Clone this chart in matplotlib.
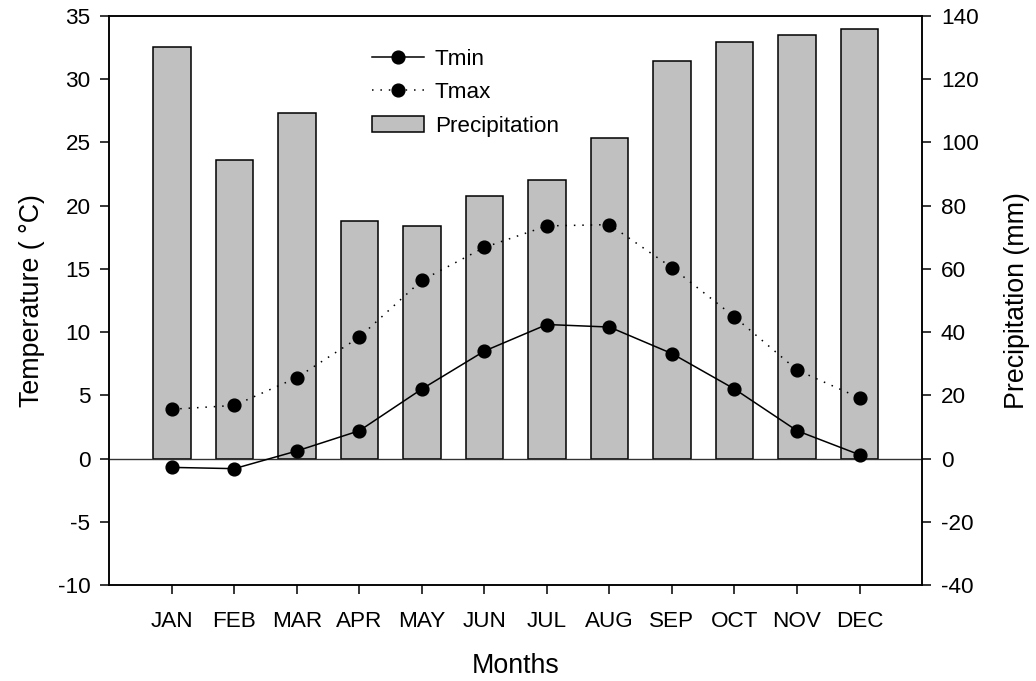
import matplotlib

matplotlib.use("Agg")
import matplotlib.pyplot as plt
import numpy as np

months = ["JAN", "FEB", "MAR", "APR", "MAY", "JUN",
          "JUL", "AUG", "SEP", "OCT", "NOV", "DEC"]
tmin = [-0.7, -0.8, 0.6, 2.2, 5.5, 8.5, 10.6, 10.4, 8.3, 5.5, 2.2, 0.3]
tmax = [3.9, 4.2, 6.4, 9.6, 14.1, 16.7, 18.4, 18.5, 15.1, 11.2, 7.0, 4.8]
precip = [130.3, 94.5, 109.3, 75.1, 73.5, 83.2, 88.1, 101.4, 125.7, 131.7, 134.0, 136.0]

temp_ticks = list(range(-10, 36, 5))
precip_ticks = list(range(-40, 141, 20))

plt.rcParams["font.family"] = ["Liberation Sans", "DejaVu Sans"]
plt.rcParams["axes.unicode_minus"] = False

fig = plt.figure(figsize=(10.36, 6.81), dpi=100)
ax = fig.add_axes([0.1055, 0.141, 0.7845, 0.8355])
ax2 = ax.twinx()

x = np.arange(len(months))

# bars go on the precipitation axis, drawn underneath the temperature lines
bars = ax2.bar(x, precip, width=0.6, color="#c0c0c0", edgecolor="black",
               linewidth=1.1, label="Precipitation")
ax.set_zorder(ax2.get_zorder() + 1)
ax.patch.set_visible(False)

ax.axhline(0, color="#333333", linewidth=1.0, zorder=1)
l1, = ax.plot(x, tmin, "-", color="black", linewidth=1.1, marker="o",
              markersize=9.2, label="Tmin", zorder=3)
l2, = ax.plot(x, tmax, linestyle=(0, (1, 4.5)), color="black", linewidth=1.1,
              marker="o", markersize=9.2, label="Tmax", zorder=3)

ax.set_xlim(-1, 12)
ax.set_ylim(-10, 35)
ax2.set_ylim(-40, 140)
ax.set_yticks(temp_ticks)
ax2.set_yticks(precip_ticks)
ax.set_xticks(x)
ax.set_xticklabels(months)

for a in (ax, ax2):
    for s in a.spines.values():
        s.set_linewidth(1.1)
    a.tick_params(direction="out", length=6.5, width=1.1, labelsize=16.2, pad=7)
ax.tick_params(axis="x", pad=12.5)
ax.tick_params(top=False)

ax.set_xlabel("Months", fontsize=19.3, labelpad=15)
ax.set_ylabel("Temperature ( \u00b0C)", fontsize=19.3, labelpad=9)
ax2.set_ylabel("Precipitation (mm)", fontsize=19.3, labelpad=18)

ax.legend([l1, l2, bars], ["Tmin", "Tmax", "Precipitation"],
          loc="upper left", bbox_to_anchor=(0.323, 0.943), frameon=False,
          fontsize=16.2, handlelength=2.3, handleheight=0.77,
          handletextpad=0.5, labelspacing=0.55, borderpad=0, borderaxespad=0)

fig.savefig("out.png", dpi=100)
